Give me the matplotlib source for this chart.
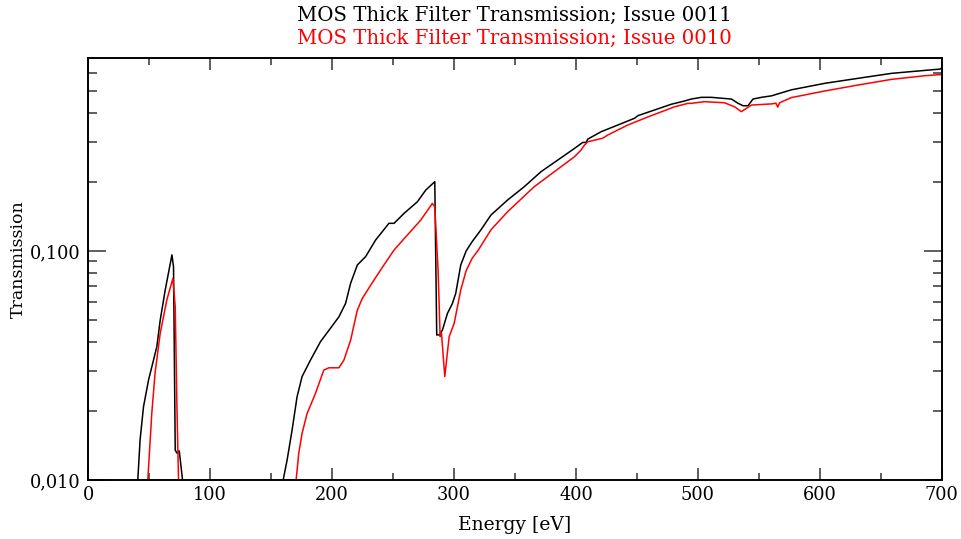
import numpy as np
import matplotlib
matplotlib.use("Agg")
import matplotlib.pyplot as plt
from matplotlib.ticker import FixedLocator, FixedFormatter, MultipleLocator

# Issue 0011 (black) - two visible segments, split by NaN
e_0011 = [40.8, 42.7, 45.5, 49.6, 56.4, 59.2, 63.3, 68.8, 70.1, 71.5, 72.9, 74.8, 77.5,
          np.nan,
          160.0, 163.2, 167.3, 171.4, 175.5, 182.4, 190.6, 198.8, 205.7, 211.2, 215.3,
          220.8, 227.6, 235.8, 246.7, 250.9, 259.1, 270.0, 276.9, 284.3, 285.9, 288.0,
          290.6, 294.7, 298.8, 301.5, 305.6, 310.0, 315.0, 322.1, 330.3, 344.0, 357.7,
          371.4, 385.1, 398.8, 405.6, 408.4, 409.7, 420.7, 434.4, 448.1, 450.8, 464.5,
          478.2, 489.1, 494.6, 502.8, 511.0, 527.5, 533.0, 537.0, 541.1, 545.2, 552.1,
          560.3, 576.8, 604.1, 631.5, 658.9, 686.3, 698.6, 700.0]
t_0011 = [0.0100, 0.0150, 0.0209, 0.0273, 0.0382, 0.0500, 0.0676, 0.0962, 0.0853, 0.0135,
          0.0131, 0.0134, 0.0100,
          np.nan,
          0.0100, 0.0122, 0.0165, 0.0231, 0.0283, 0.0334, 0.0402, 0.0460, 0.0516, 0.0591,
          0.0723, 0.0869, 0.0945, 0.1117, 0.1321, 0.1321, 0.1460, 0.1640, 0.1845, 0.2008,
          0.0430, 0.0430, 0.0452, 0.0534, 0.0591, 0.0654, 0.0869, 0.1000, 0.1100, 0.1236,
          0.1435, 0.1670, 0.1910, 0.2220, 0.2495, 0.2805, 0.2980, 0.2980, 0.3080, 0.3320,
          0.3550, 0.3800, 0.3900, 0.4130, 0.4375, 0.4520, 0.4610, 0.4690, 0.4690, 0.4610,
          0.4415, 0.4310, 0.4310, 0.4610, 0.4690, 0.4760, 0.5060, 0.5400, 0.5680, 0.5970,
          0.6150, 0.6230, 0.6300]

# Issue 0010 (red)
e_0010 = [49.0, 52.3, 55.0, 59.2, 64.6, 69.6, 71.5, 72.9, 74.2,
          np.nan,
          170.6, 172.8, 175.5, 179.6, 186.5, 193.3, 197.5, 205.7, 209.8, 215.3, 220.8,
          224.9, 234.4, 242.6, 250.9, 261.8, 272.8, 282.3, 284.3, 287.0, 288.7, 289.8,
          292.5, 296.1, 300.2, 305.6, 310.0, 315.0, 320.0, 330.3, 344.0, 365.9, 382.3,
          398.8, 404.2, 407.0, 409.7, 422.0, 426.1, 442.5, 459.0, 480.9, 491.9, 494.6,
          505.5, 521.9, 530.1, 535.6, 539.7, 543.9, 560.3, 564.0, 565.5, 567.0, 576.8,
          604.1, 631.5, 658.9, 686.3, 700.0]
t_0010 = [0.0100, 0.0196, 0.0294, 0.0438, 0.0611, 0.0760, 0.0571, 0.0209, 0.0100,
          np.nan,
          0.0100, 0.0131, 0.0160, 0.0195, 0.0239, 0.0302, 0.0309, 0.0309, 0.0334, 0.0408,
          0.0552, 0.0621, 0.0746, 0.0869, 0.1010, 0.1174, 0.1365, 0.1614, 0.1560, 0.0826,
          0.0423, 0.0438, 0.0283, 0.0423, 0.0483, 0.0676, 0.0820, 0.0930, 0.1010, 0.1236,
          0.1485, 0.1910, 0.2220, 0.2580, 0.2760, 0.2900, 0.3000, 0.3110, 0.3210, 0.3550,
          0.3850, 0.4265, 0.4415, 0.4415, 0.4490, 0.4440, 0.4265, 0.4060, 0.4195, 0.4340,
          0.4390, 0.4420, 0.4250, 0.4440, 0.4680, 0.5000, 0.5310, 0.5620, 0.5830, 0.5900]

x_major = [0, 100, 200, 300, 400, 500, 600, 700]
y_major = [0.01, 0.1]
y_labels = ["0,010", "0,100"]
y_minor = [0.02, 0.03, 0.04, 0.05, 0.06, 0.07, 0.08, 0.09, 0.2, 0.3, 0.4, 0.5, 0.6]

title_1 = "MOS Thick Filter Transmission; Issue 0011"
title_2 = "MOS Thick Filter Transmission; Issue 0010"

plt.rcParams['font.family'] = ['DejaVu Serif']

fig = plt.figure(figsize=(9.62, 5.39), dpi=100)
ax = fig.add_axes([0.0915, 0.1095, 0.8875, 0.7838])

ax.plot(e_0011, t_0011, color='black', lw=1.1)
ax.plot(e_0010, t_0010, color='red', lw=1.1)

ax.set_yscale('log')
ax.set_xlim(0, 700)
ax.set_ylim(0.01, 0.7)

ax.xaxis.set_major_locator(FixedLocator(x_major))
ax.xaxis.set_minor_locator(MultipleLocator(50))
ax.yaxis.set_major_locator(FixedLocator(y_major))
ax.yaxis.set_major_formatter(FixedFormatter(y_labels))
ax.yaxis.set_minor_locator(FixedLocator(y_minor))
ax.yaxis.set_minor_formatter(FixedFormatter([""] * len(y_minor)))

ax.tick_params(axis='both', which='both', direction='in', top=True, right=True,
               color='#333333', width=1.1)
ax.tick_params(axis='x', which='major', length=8.6, pad=4, labelsize=12.8)
ax.tick_params(axis='x', which='minor', length=5)
ax.tick_params(axis='y', which='major', length=12.7, pad=5.5, labelsize=12.8)
ax.tick_params(axis='y', which='minor', length=6.3)

for sp in ax.spines.values():
    sp.set_linewidth(1.4)

fig.text(0.535, 0.972, title_1, ha='center', va='center', fontsize=14.2, color='black')
fig.text(0.535, 0.929, title_2, ha='center', va='center', fontsize=14.2, color='red')
fig.text(0.535, 0.026, "Energy [eV]", ha='center', va='center', fontsize=13.5)
fig.text(0.019, 0.52, "Transmission", ha='center', va='center', rotation=90, fontsize=12.5)

fig.savefig("out.png", dpi=100)
